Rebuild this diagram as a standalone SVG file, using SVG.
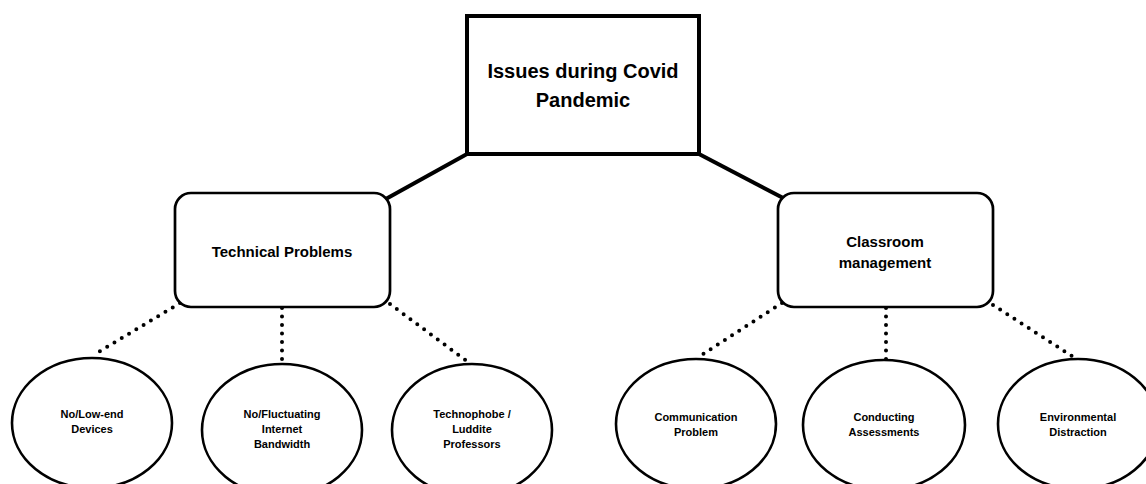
<svg xmlns="http://www.w3.org/2000/svg" width="1146" height="484" viewBox="0 0 1146 484">
<style>
  .t { font-family: "Liberation Sans", Arial, sans-serif; font-weight: bold; fill: #000; text-anchor: middle; }
  .thick { stroke: #000; stroke-width: 4; fill: none; }
  .dot { stroke: #000; stroke-width: 4; stroke-linecap: round; stroke-dasharray: 0 8.5; fill: none; }
  .rbox { fill: #fff; stroke: #000; stroke-width: 2.7; }
  .ell { fill: #fff; stroke: #000; stroke-width: 2.6; }
</style>
<rect width="1146" height="484" fill="#fff"/>
<g id="connectors">
  <line class="thick" x1="467" y1="154" x2="384" y2="200"/>
  <line class="thick" x1="699" y1="154" x2="787" y2="200"/>
  <line class="dot" x1="180" y1="303" x2="97" y2="353"/>
  <line class="dot" x1="282" y1="308" x2="282" y2="362"/>
  <line class="dot" x1="390" y1="304" x2="468" y2="362"/>
  <line class="dot" x1="782" y1="303" x2="697" y2="358"/>
  <line class="dot" x1="886" y1="308" x2="886" y2="360"/>
  <line class="dot" x1="993" y1="305" x2="1075" y2="358"/>
</g>
<g id="root">
  <rect x="467" y="16" width="232" height="138" fill="#fff" stroke="#000" stroke-width="4"/>
  <text class="t" x="583" y="78" font-size="20">Issues during Covid</text>
  <text class="t" x="583" y="107" font-size="20">Pandemic</text>
</g>
<g id="technical">
  <rect class="rbox" x="175" y="193" width="215" height="114" rx="16"/>
  <text class="t" x="282" y="257" font-size="15">Technical Problems</text>
</g>
<g id="classroom">
  <rect class="rbox" x="778" y="193" width="215" height="114" rx="16"/>
  <text class="t" x="885" y="247" font-size="15">Classroom</text>
  <text class="t" x="885" y="268" font-size="15">management</text>
</g>
<g id="devices">
  <ellipse class="ell" cx="92" cy="423" rx="80" ry="65"/>
  <text class="t" x="92" y="418" font-size="11">No/Low-end</text>
  <text class="t" x="92" y="433" font-size="11">Devices</text>
</g>
<g id="bandwidth">
  <ellipse class="ell" cx="282" cy="430" rx="80" ry="66"/>
  <text class="t" x="282" y="418" font-size="11">No/Fluctuating</text>
  <text class="t" x="282" y="433" font-size="11">Internet</text>
  <text class="t" x="282" y="448" font-size="11">Bandwidth</text>
</g>
<g id="technophobe">
  <ellipse class="ell" cx="472" cy="430" rx="80" ry="66"/>
  <text class="t" x="472" y="418" font-size="11">Technophobe /</text>
  <text class="t" x="472" y="433" font-size="11">Luddite</text>
  <text class="t" x="472" y="448" font-size="11">Professors</text>
</g>
<g id="communication">
  <ellipse class="ell" cx="696" cy="424" rx="80" ry="65"/>
  <text class="t" x="696" y="421" font-size="11">Communication</text>
  <text class="t" x="696" y="436" font-size="11">Problem</text>
</g>
<g id="assessments">
  <ellipse class="ell" cx="884" cy="425" rx="81" ry="65"/>
  <text class="t" x="884" y="421" font-size="11">Conducting</text>
  <text class="t" x="884" y="436" font-size="11">Assessments</text>
</g>
<g id="distraction">
  <ellipse class="ell" cx="1078" cy="424" rx="80" ry="65"/>
  <text class="t" x="1078" y="421" font-size="11">Environmental</text>
  <text class="t" x="1078" y="436" font-size="11">Distraction</text>
</g>
</svg>
